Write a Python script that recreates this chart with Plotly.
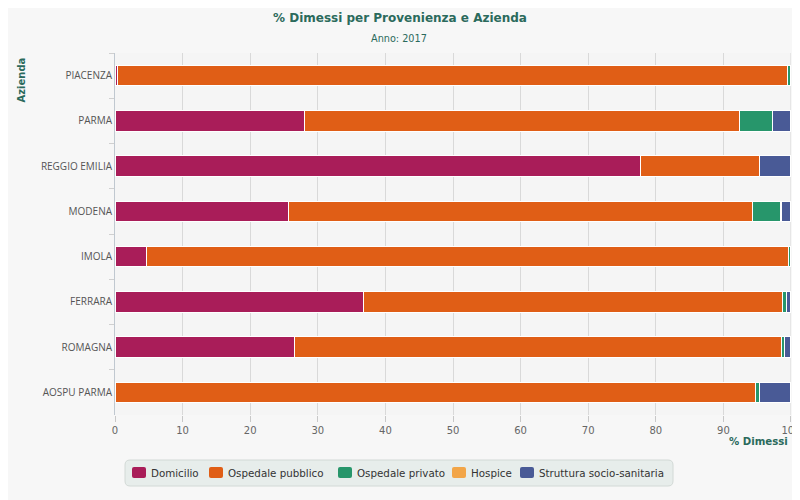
import plotly.graph_objects as go

aziende = ["PIACENZA", "PARMA", "REGGIO EMILIA", "MODENA", "IMOLA", "FERRARA", "ROMAGNA", "AOSPU PARMA"]
domicilio = [0.3, 28.0, 77.8, 25.6, 4.6, 36.8, 26.5, 0.0]
osp_pubblico = [99.2, 64.4, 17.6, 68.7, 95.1, 62.0, 72.1, 94.8]
osp_privato = [0.5, 4.9, 0.0, 4.1, 0.3, 0.6, 0.5, 0.6]
hospice = [0.0, 0.0, 0.0, 0.2, 0.0, 0.0, 0.0, 0.0]
struttura = [0.0, 2.7, 4.6, 1.4, 0.0, 0.6, 0.9, 4.6]
x_ticks = [0, 10, 20, 30, 40, 50, 60, 70, 80, 90, 100]

series = [
    ("Domicilio", domicilio, "#A91D59"),
    ("Ospedale pubblico", osp_pubblico, "#E05E16"),
    ("Ospedale privato", osp_privato, "#27966B"),
    ("Hospice", hospice, "#F2A548"),
    ("Struttura socio-sanitaria", struttura, "#495A96"),
]

teal = "#2B6A5C"
fig = go.Figure()
for name, vals, col in series:
    fig.add_trace(go.Bar(
        y=aziende, x=vals, name=name, orientation="h", showlegend=False,
        marker=dict(color=col, line=dict(color="#ffffff", width=1)),
    ))

# screen pixel -> paper coordinate helpers (plot area spans x 115..791, y 53..415)
def px(X):
    return (X - 115) / 676

def py(Y):
    return (415 - Y) / 362

def rounded(x0, y0, x1, y1, r):
    X0, X1, Y0, Y1 = px(x0), px(x1), py(y0), py(y1)
    rx, ry = r / 676, r / 362
    return (f"M{X0+rx},{Y0} L{X1-rx},{Y0} Q{X1},{Y0} {X1},{Y0-ry} L{X1},{Y1+ry} "
            f"Q{X1},{Y1} {X1-rx},{Y1} L{X0+rx},{Y1} Q{X0},{Y1} {X0},{Y1+ry} "
            f"L{X0},{Y0-ry} Q{X0},{Y0} {X0+rx},{Y0} Z")

shapes = [
    dict(type="line", xref="x", yref="paper", x0=x_ticks[-1], x1=x_ticks[-1], y0=0, y1=1,
         line=dict(color="#d9d9d9", width=1), layer="below"),
    dict(type="path", xref="paper", yref="paper", path=rounded(125, 460, 673, 486, 5),
         fillcolor="#e7edeb", line=dict(color="#d2d9d6", width=1), layer="above"),
]
annotations = []
swatch_left = [132, 209, 338, 452, 520]
for (name, _, col), sx in zip(series, swatch_left):
    shapes.append(dict(type="path", xref="paper", yref="paper",
                       path=rounded(sx, 467, sx + 14, 478, 2),
                       fillcolor=col, line=dict(width=0), layer="above"))
    annotations.append(dict(text=name, xref="paper", yref="paper", x=px(sx + 17), y=py(473),
                            xanchor="left", yanchor="middle", showarrow=False,
                            font=dict(family="DejaVu Sans", size=10.3, color="#333")))

annotations += [
    dict(text="<b>% Dimessi per Provenienza e Azienda</b>", xref="paper", yref="paper",
         x=px(400), y=py(18), xanchor="center", yanchor="middle", showarrow=False,
         font=dict(family="DejaVu Sans", size=12, color=teal)),
    dict(text="Anno: 2017", xref="paper", yref="paper",
         x=px(399), y=py(38), xanchor="center", yanchor="middle", showarrow=False,
         font=dict(family="DejaVu Sans", size=9.7, color=teal)),
    dict(text="<b>Azienda</b>", xref="paper", yref="paper", x=px(21), y=py(56),
         xanchor="center", yanchor="top", textangle=-90, showarrow=False,
         font=dict(family="DejaVu Sans", size=10, color=teal)),
    dict(text="<b>% Dimessi</b>", xref="paper", yref="paper", x=px(790), y=py(441),
         xanchor="right", yanchor="middle", showarrow=False,
         font=dict(family="DejaVu Sans", size=10.2, color=teal)),
]

# page body has an 8px margin, so the figure is offset; shrink to fit 800x500 window
fig.update_layout(
    width=792, height=492,
    barmode="stack", bargap=0.55,
    paper_bgcolor="#f7f7f7", plot_bgcolor="#f5f5f5",
    margin=dict(l=107, r=9, t=45, b=85, autoexpand=False),
    font=dict(family="DejaVu Sans", size=11, color="#555"),
    showlegend=False,
    xaxis=dict(range=[0, 100.001], tickvals=x_ticks, showgrid=True, gridcolor="#d9d9d9", gridwidth=1,
               zeroline=False, ticks="outside", ticklen=6, tickcolor="#c8c8c8",
               tickfont=dict(family="DejaVu Sans", size=10, color="#666"),
               ticklabeloverflow="allow",
               showline=False, automargin=False),
    yaxis=dict(autorange="reversed", showgrid=False, showline=True, linecolor="#c0c8d0",
               ticks="outside", tickson="boundaries", ticklen=5, tickcolor="#d0d0d0",
               tickfont=dict(family="Open Sans", size=10, color="#555"),
               automargin=False),
    shapes=shapes,
    annotations=annotations,
)

fig.write_html("out.html")
